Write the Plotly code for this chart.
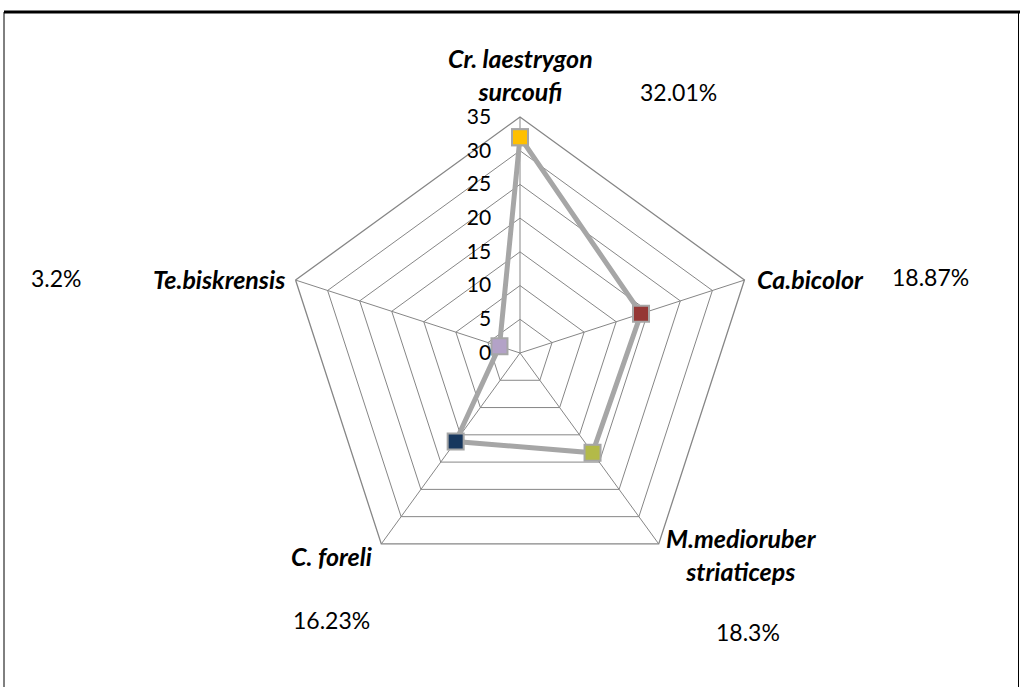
import plotly.graph_objects as go

# Species and their share (%)
species = ["Cr. laestrygon<br>surcoufi", "Ca.bicolor", "M.medioruber<br>striaticeps",
           "C. foreli", "Te.biskrensis"]
shares = [32.01, 18.87, 18.3, 16.23, 3.2]
marker_colors = ["#FFC000", "#953735", "#B3BA48", "#17375E", "#B3A2C7"]
radial_ticks = [0, 5, 10, 15, 20, 25, 30, 35]

W, H = 1020, 687
cx, cy, R = 520, 353, 236

# Label placement in pixels: (x, y, xanchor)
name_pos = [(520, 74, "center"), (755, 279, "left"), (664, 554, "left"),
            (374, 556, "right"), (287, 279, "right")]
pct_pos = [(678, 92), (930, 277), (748, 632), (331, 620), (56, 278)]

FONT = "Lato, 'Open Sans', sans-serif"
GRID = "#868686"

fig = go.Figure()
fig.add_trace(go.Scatterpolar(
    r=shares + shares[:1],
    theta=species + species[:1],
    mode="lines+markers",
    line=dict(color="#A6A6A6", width=5),
    marker=dict(symbol="square", size=16,
                color=marker_colors + marker_colors[:1],
                line=dict(color="#A6A6A6", width=2)),
    showlegend=False,
    hoverinfo="skip",
))

fig.update_layout(
    width=W, height=H,
    margin=dict(l=0, r=0, t=0, b=0),
    paper_bgcolor="white",
    font=dict(family=FONT, size=20, color="black"),
    polar=dict(
        domain=dict(x=[(cx - R) / W, (cx + R) / W],
                    y=[(H - cy - R) / H, (H - cy + R) / H]),
        bgcolor="white",
        gridshape="linear",
        radialaxis=dict(
            range=[0, 35], tickvals=radial_ticks, angle=90, tickangle=90,
            side="counterclockwise", showline=False,
            ticks="outside", ticklen=21, tickcolor="rgba(0,0,0,0)",
            gridcolor=GRID, gridwidth=1.3,
            tickfont=dict(family=FONT, size=21, color="black"),
        ),
        angularaxis=dict(
            type="category", categoryarray=species,
            rotation=90, direction="clockwise",
            showline=True, linecolor=GRID, linewidth=1.3,
            gridcolor=GRID, gridwidth=1.3,
            ticks="", showticklabels=False,
        ),
    ),
)

# Species names
for name, (px, py, anchor) in zip(species, name_pos):
    fig.add_annotation(text=name, x=px / W, y=1 - py / H, xref="paper", yref="paper",
                       showarrow=False, xanchor=anchor, yanchor="middle", align="center",
                       font=dict(family=FONT, size=25, color="black",
                                 weight="bold", style="italic"))

# Percent labels
for v, (px, py) in zip(shares, pct_pos):
    fig.add_annotation(text=f"{v}%", x=px / W, y=1 - py / H, xref="paper", yref="paper",
                       showarrow=False, xanchor="center", yanchor="middle",
                       font=dict(family=FONT, size=23, color="black"))

# Frame around the chart area
top = 1 - 12 / H
fig.add_shape(type="line", xref="paper", yref="paper", x0=4 / W, x1=1, y0=top, y1=top,
              line=dict(color="black", width=3))
fig.add_shape(type="line", xref="paper", yref="paper", x0=4 / W, x1=4 / W, y0=0, y1=top,
              line=dict(color="black", width=1))
fig.add_shape(type="line", xref="paper", yref="paper", x0=1018.5 / W, x1=1018.5 / W, y0=0, y1=top,
              line=dict(color="black", width=1))

fig.write_html("out.html")
